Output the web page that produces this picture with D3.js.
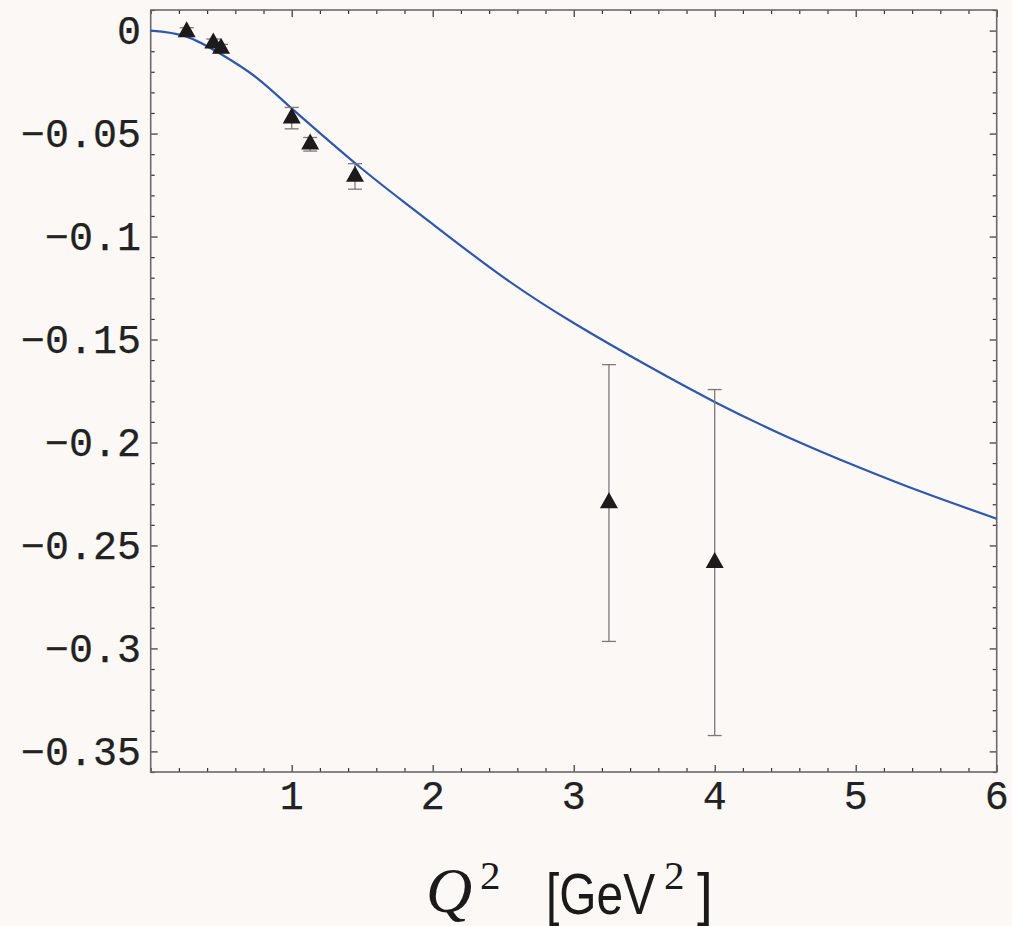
<!DOCTYPE html>
<html><head><meta charset="utf-8">
<script src="https://cdn.jsdelivr.net/npm/d3@7"></script>
<style>
html,body{margin:0;padding:0;background:#fbf8f5;}
svg{display:block;}
</style></head>
<body>
<svg id="chart" width="1012" height="926"></svg>
<script>
// ---- data ----
const curveQ2 = [0, 0.25, 0.5, 0.75, 1.0, 1.25, 1.5, 1.75, 2.0, 2.5, 3.0, 3.5, 4.0, 4.5, 5.0, 5.5, 6.0];
const curveVal = [0, -0.0028, -0.0115, -0.0228, -0.0378, -0.0527, -0.0672, -0.0808, -0.094, -0.1197, -0.142, -0.1618, -0.1803, -0.1968, -0.2114, -0.2248, -0.237];
const dataQ2 = [0.255, 0.444, 0.499, 1.0, 1.131, 1.449, 3.25, 4.0];
const dataVal = [-0.0006, -0.0061, -0.0087, -0.0425, -0.0552, -0.0708, -0.2294, -0.2583];
const dataErr = [0.002, 0.002, 0.002, 0.0052, 0.0033, 0.0062, 0.0672, 0.084];
const xTicks = [1, 2, 3, 4, 5, 6];
const xTickLabels = ["1", "2", "3", "4", "5", "6"];
const yTicks = [0, -0.05, -0.1, -0.15, -0.2, -0.25, -0.3, -0.35];
const yTickLabels = ["0", "\u22120.05", "\u22120.1", "\u22120.15", "\u22120.2", "\u22120.25", "\u22120.3", "\u22120.35"];

// ---- layout ----
const L = 150.7, R = 996.7, T = 10, B = 772;
const svg = d3.select("#chart");
svg.append("rect").attr("width", 1012).attr("height", 926).attr("fill", "#fbf8f5");

const x = d3.scaleLinear().domain([0, 6]).range([L, R]);
const y = d3.scaleLinear().domain([-0.36, 0.01]).range([B, T]);

const xMinor = d3.range(0, 6.0001, 0.2).map(v => +v.toFixed(2)).filter(v => xTicks.indexOf(v) < 0);
const yMinor = d3.range(-0.36, 0.0101, 0.01).map(v => +v.toFixed(3)).filter(v => !yTicks.some(t => Math.abs(t - v) < 1e-6));

const g = svg.append("g");
const tickColor = "#333";

function ticks(axisGen, transform) {
  const a = g.append("g").attr("transform", transform).call(axisGen);
  a.select(".domain").remove();
  a.selectAll("line").attr("stroke", tickColor).attr("stroke-width", 1.2);
  return a;
}
ticks(d3.axisBottom(x).tickValues(xTicks).tickSize(-7).tickFormat(""), `translate(0,${B})`);
ticks(d3.axisBottom(x).tickValues(xMinor).tickSize(-4).tickFormat(""), `translate(0,${B})`);
ticks(d3.axisTop(x).tickValues(xTicks).tickSize(-7).tickFormat(""), `translate(0,${T})`);
ticks(d3.axisTop(x).tickValues(xMinor).tickSize(-4).tickFormat(""), `translate(0,${T})`);
ticks(d3.axisLeft(y).tickValues(yTicks).tickSize(-7).tickFormat(""), `translate(${L},0)`);
ticks(d3.axisLeft(y).tickValues(yMinor).tickSize(-4).tickFormat(""), `translate(${L},0)`);
ticks(d3.axisRight(y).tickValues(yTicks).tickSize(-7).tickFormat(""), `translate(${R},0)`);
ticks(d3.axisRight(y).tickValues(yMinor).tickSize(-4).tickFormat(""), `translate(${R},0)`);

g.append("rect").attr("x", L).attr("y", T).attr("width", R - L).attr("height", B - T)
  .attr("fill", "none").attr("stroke", "#6a6a6a").attr("stroke-width", 1.6);

// tick labels
const monoFont = "'Liberation Mono', 'DejaVu Sans Mono', monospace";
g.selectAll("text.ylab").data(yTicks).enter().append("text")
  .attr("class", "ylab")
  .attr("x", 141).attr("y", d => y(d)).attr("dy", "0.33em")
  .attr("text-anchor", "end")
  .style("font-family", monoFont).style("font-size", "40px")
  .attr("fill", "#222").attr("stroke", "#222").attr("stroke-width", 0.25)
  .text((d, i) => yTickLabels[i]);

g.selectAll("text.xlab").data(xTicks).enter().append("text")
  .attr("class", "xlab")
  .attr("x", d => x(d)).attr("y", 796).attr("dy", "0.33em")
  .attr("text-anchor", "middle")
  .style("font-family", monoFont).style("font-size", "40px")
  .attr("fill", "#222").attr("stroke", "#222").attr("stroke-width", 0.25)
  .text((d, i) => xTickLabels[i]);

// curve
const line = d3.line().x((d, i) => x(curveQ2[i])).y(d => y(d)).curve(d3.curveNatural);
svg.append("path").datum(curveVal)
  .attr("d", line).attr("fill", "none")
  .attr("stroke", "#2f57b0").attr("stroke-width", 2.2);

// error bars
const pts = dataQ2.map((q, i) => ({ q, v: dataVal[i], e: dataErr[i] }));
const eb = svg.append("g").attr("stroke", "#7a7a7a").attr("stroke-width", 1.3);
pts.forEach(p => {
  eb.append("line").attr("x1", x(p.q)).attr("x2", x(p.q)).attr("y1", y(p.v + p.e)).attr("y2", y(p.v - p.e));
  [p.v + p.e, p.v - p.e].forEach(v => {
    eb.append("line").attr("x1", x(p.q) - 7).attr("x2", x(p.q) + 7).attr("y1", y(v)).attr("y2", y(v));
  });
});

// triangle markers (centroid on the data point)
const hw = 9, h = 16;
svg.append("g").selectAll("path").data(pts).enter().append("path")
  .attr("d", p => {
    const cx = x(p.q), cy = y(p.v);
    return `M${cx},${cy - 2 * h / 3}L${cx + hw},${cy + h / 3}L${cx - hw},${cy + h / 3}Z`;
  })
  .attr("fill", "#1c1a1a");

// axis title
const ttl = svg.append("g");
ttl.append("text").attr("x", 426).attr("y", 912)
  .style("font-family", "'Liberation Serif', 'DejaVu Serif', serif").style("font-style", "italic")
  .style("font-size", "64px").attr("fill", "#1a1a1a").text("Q");
ttl.append("text").attr("x", 480).attr("y", 889)
  .style("font-family", "'Liberation Serif', 'DejaVu Serif', serif")
  .style("font-size", "41px").attr("fill", "#1a1a1a").text("2");
ttl.append("text").attr("transform", "translate(546,914) scale(0.84,1)")
  .style("font-family", "'Liberation Sans', Arial, sans-serif")
  .style("font-size", "57px").attr("fill", "#1a1a1a").text("[GeV");
ttl.append("text").attr("x", 664).attr("y", 889)
  .style("font-family", "'Liberation Serif', 'DejaVu Serif', serif")
  .style("font-size", "41px").attr("fill", "#1a1a1a").text("2");
ttl.append("text").attr("x", 697).attr("y", 914)
  .style("font-family", "'Liberation Sans', Arial, sans-serif")
  .style("font-size", "57px").attr("fill", "#1a1a1a").text("]");
</script>
</body></html>
